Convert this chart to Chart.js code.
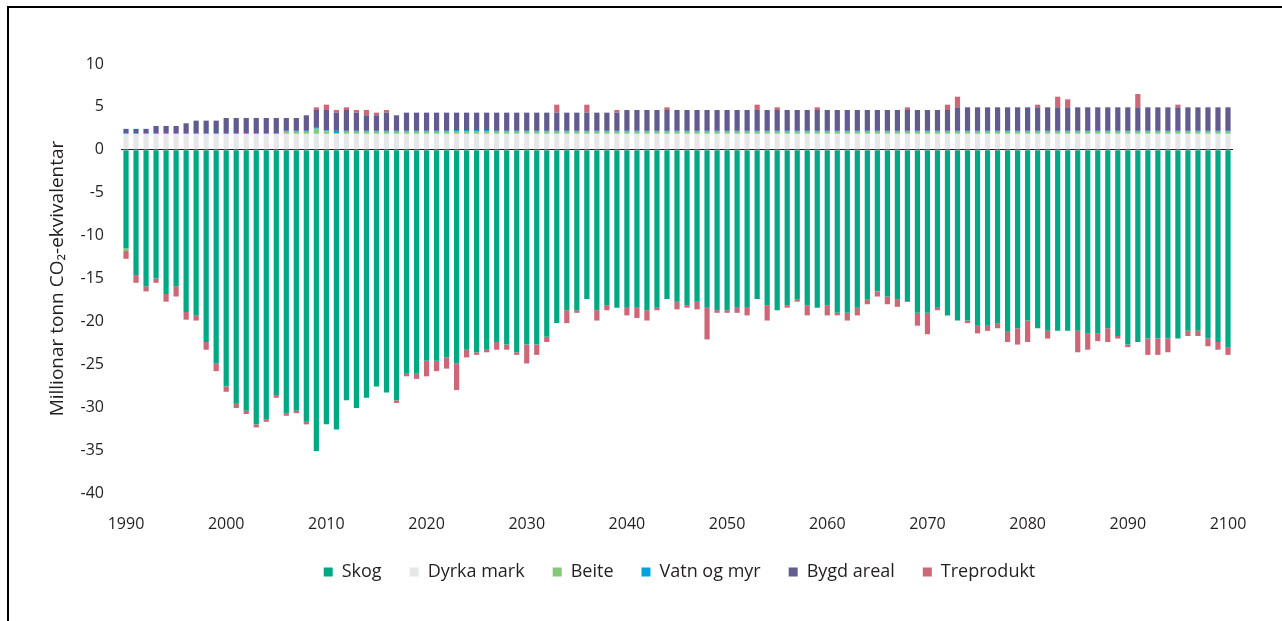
<!DOCTYPE html>
<html>
<head>
<meta charset="UTF-8">
<title>Millionar tonn CO2-ekvivalentar</title>
<script src="https://cdn.jsdelivr.net/npm/chart.js"></script>
<style>
  html, body { margin: 0; padding: 0; background: #fff; }
  #wrap { position: relative; width: 1282px; height: 621px; overflow: hidden; }
  #frame { position: absolute; left: 7px; top: 6px; right: -4px; bottom: -4px;
           border-top: 2px solid #000; border-left: 2px solid #000; }
  #chart { position: absolute; left: 0; top: 0; }
</style>
</head>
<body>
<div id="wrap">
  <div id="frame"></div>
  <canvas id="chart" width="1282" height="621"></canvas>
</div>
<script>
// years 1990..2100
const years = Array.from({ length: 111 }, (_, i) => String(1990 + i));

// Skog (forest)
const skog = [
  -11.5, -14.6, -15.9, -15.0, -16.8, -15.9, -18.9, -19.3, -22.4, -24.9, // 1990-1999
  -27.6, -29.5, -30.4, -32.0, -31.4, -28.6, -30.7, -30.4, -31.7, -35.1, // 2000-2009
  -32.0, -32.6, -29.2, -30.1, -28.9, -27.6, -28.3, -29.2, -26.1, -26.1, // 2010-2019
  -24.6, -24.6, -24.2, -24.9, -23.3, -23.6, -23.3, -22.4, -22.7, -23.6, // 2020-2029
  -22.7, -22.7, -21.8, -20.2, -18.7, -18.7, -17.4, -18.7, -18.1, -18.4, // 2030-2039
  -18.4, -18.4, -18.7, -18.4, -17.4, -17.7, -18.1, -17.7, -18.4, -18.7, // 2040-2049
  -18.7, -18.4, -18.4, -17.4, -18.1, -18.7, -18.1, -17.4, -18.1, -18.4, // 2050-2059
  -18.1, -19.0, -19.0, -18.4, -17.4, -16.5, -17.1, -17.4, -17.7, -19.0, // 2060-2069
  -19.0, -18.4, -19.3, -19.9, -19.9, -20.5, -20.5, -20.2, -21.2, -20.8, // 2070-2079
  -19.9, -20.8, -21.1, -21.1, -21.1, -21.1, -21.4, -21.4, -20.8, -21.7, // 2080-2089
  -22.7, -22.4, -22.0, -22.0, -22.0, -22.0, -21.1, -21.1, -22.0, -22.4, // 2090-2099
  -23.0                                                                  // 2100
];

// Dyrka mark (cropland)
const dyrkaMark = [
  1.86, 1.86, 1.86, 1.86, 1.86, 1.86, 1.86, 1.86, 1.86, 1.86,
  1.86, 1.86, 1.86, 1.86, 1.86, 1.86, 1.86, 1.86, 1.86, 1.86,
  1.86, 1.86, 1.86, 1.86, 1.86, 1.86, 1.86, 1.86, 1.86, 1.86,
  1.86, 1.86, 1.86, 1.86, 1.86, 1.86, 1.86, 1.86, 1.86, 1.86,
  1.86, 1.86, 1.86, 1.86, 1.86, 1.86, 1.86, 1.86, 1.86, 1.86,
  1.86, 1.86, 1.86, 1.86, 1.86, 1.86, 1.86, 1.86, 1.86, 1.86,
  1.86, 1.86, 1.86, 1.86, 1.86, 1.86, 1.86, 1.86, 1.86, 1.86,
  1.86, 1.86, 1.86, 1.86, 1.86, 1.86, 1.86, 1.86, 1.86, 1.86,
  1.86, 1.86, 1.86, 1.86, 1.86, 1.86, 1.86, 1.86, 1.86, 1.86,
  1.86, 1.86, 1.86, 1.86, 1.86, 1.86, 1.86, 1.86, 1.86, 1.86,
  1.86, 1.86, 1.86, 1.86, 1.86, 1.86, 1.86, 1.86, 1.86, 1.86,
  1.86
];

// Beite (grazing land)
const beite = [
  -0.3, 0, 0, 0, 0, 0, 0, 0, 0, 0,
  0, 0, 0, 0, 0, 0, 0.25, 0.25, 0.25, 0.6,
  0.3, 0.1, 0.25, 0.25, 0.25, 0.25, 0.25, 0.25, 0.25, 0.25,
  0.25, 0.25, 0.25, 0.25, 0.25, 0.25, 0.25, 0.25, 0.25, 0.25,
  0.25, 0.25, 0.25, 0.25, 0.25, 0.25, 0.25, 0.25, 0.25, 0.25,
  0.25, 0.25, 0.25, 0.25, 0.25, 0.25, 0.25, 0.25, 0.25, 0.25,
  0.25, 0.25, 0.25, 0.25, 0.25, 0.25, 0.25, 0.25, 0.25, 0.25,
  0.25, 0.25, 0.25, 0.25, 0.25, 0.25, 0.25, 0.25, 0.25, 0.25,
  0.25, 0.25, 0.25, 0.25, 0.25, 0.25, 0.25, 0.25, 0.25, 0.25,
  0.25, 0.25, 0.25, 0.25, 0.25, 0.25, 0.25, 0.25, 0.25, 0.25,
  0.25, 0.25, 0.25, 0.25, 0.25, 0.25, 0.25, 0.25, 0.25, 0.25,
  0.25
];

// Vatn og myr (water and wetland)
const vatnOgMyr = [
  0.1, 0.1, 0.1, 0.1, 0.1, 0.1, 0.1, 0.1, 0.1, 0.1,
  0.1, 0.1, 0.1, 0.1, 0.1, 0.1, 0.1, 0.1, 0.1, 0.1,
  0.1, 0.25, 0.1, 0.1, 0.1, 0.1, 0.1, 0.1, 0.1, 0.1,
  0.1, 0.1, 0.1, 0.2, 0.2, 0.2, 0.2, 0.1, 0.1, 0.1,
  0.1, 0.1, 0.1, 0.1, 0.1, 0.1, 0.1, 0.1, 0.1, 0.1,
  0.1, 0.1, 0.1, 0.1, 0.1, 0.1, 0.1, 0.1, 0.1, 0.1,
  0.1, 0.1, 0.1, 0.1, 0.1, 0.1, 0.1, 0.1, 0.1, 0.1,
  0.1, 0.1, 0.1, 0.1, 0.1, 0.1, 0.1, 0.1, 0.1, 0.1,
  0.1, 0.1, 0.1, 0.1, 0.1, 0.1, 0.1, 0.1, 0.1, 0.1,
  0.1, 0.1, 0.1, 0.1, 0.1, 0.1, 0.1, 0.1, 0.1, 0.1,
  0.1, 0.1, 0.1, 0.1, 0.1, 0.1, 0.1, 0.1, 0.1, 0.1,
  0.1
];

// Bygd areal (settlements)
const bygdAreal = [
  0.48, 0.48, 0.48, 0.82, 0.82, 0.82, 1.13, 1.44, 1.44, 1.44,
  1.75, 1.75, 1.75, 1.75, 1.75, 1.75, 1.50, 1.50, 1.81, 2.08,
  2.38, 2.12, 2.43, 2.12, 1.81, 1.81, 2.12, 1.81, 2.12, 2.12,
  2.12, 2.12, 2.12, 2.02, 2.02, 2.02, 2.02, 2.12, 2.12, 2.12,
  2.12, 2.12, 2.12, 2.12, 2.12, 2.12, 2.12, 2.12, 2.12, 2.12,
  2.43, 2.43, 2.43, 2.43, 2.43, 2.43, 2.43, 2.43, 2.43, 2.43,
  2.43, 2.43, 2.43, 2.43, 2.43, 2.43, 2.43, 2.43, 2.43, 2.43,
  2.43, 2.43, 2.43, 2.43, 2.43, 2.43, 2.43, 2.43, 2.43, 2.43,
  2.43, 2.43, 2.43, 2.74, 2.74, 2.74, 2.74, 2.74, 2.74, 2.74,
  2.74, 2.74, 2.74, 2.74, 2.74, 2.74, 2.74, 2.74, 2.74, 2.74,
  2.74, 2.74, 2.74, 2.74, 2.74, 2.74, 2.74, 2.74, 2.74, 2.74,
  2.74
];

// Treprodukt (harvested wood products), positive or negative
const treprodukt = [
  -0.9, -0.9, -0.6, -0.5, -0.9, -1.2, -0.9, -0.6, -0.9, -0.9,   // 1990-1999
  -0.6, -0.6, -0.4, -0.35, -0.3, -0.3, -0.3, -0.3, -0.3, 0.31,  // 2000-2009
  0.62, 0.31, 0.31, 0.31, 0.62, 0.31, 0.31, -0.3, -0.3, -0.6,   // 2010-2019
  -1.8, -1.2, -1.3, -3.1, -0.9, -0.3, -0.3, -0.9, -0.6, -0.3,   // 2020-2029
  -2.2, -1.2, -0.6, 0.93, -1.5, -0.3, 0.93, -1.2, -0.6, 0.31,   // 2030-2039
  -0.9, -1.2, -1.2, -0.3, 0.31, -0.9, -0.3, -0.9, -3.7, -0.3,   // 2040-2049
  -0.3, -0.6, -0.9, 0.62, -1.8, 0.31, -0.3, -0.3, -1.2, 0.31,   // 2050-2059
  -1.2, -0.3, -0.9, -0.9, -0.6, -0.6, -0.9, -0.9, 0.31, -1.5,   // 2060-2069
  -2.5, -0.3, 0.62, 1.24, -0.3, -0.9, -0.6, -0.6, -1.2, -1.9,   // 2070-2079
  -2.5, 0.31, -0.9, 1.24, 0.93, -2.5, -1.9, -0.9, -1.6, -0.3,   // 2080-2089
  -0.3, 1.55, -1.9, -1.9, -1.6, 0.31, -0.6, -0.6, -0.9, -0.9,   // 2090-2099
  -0.9                                                          // 2100
];

const ink = '#231f20';
const font = 'Open Sans, sans-serif';

function bars(label, data, color) {
  return { label: label, data: data, backgroundColor: color, borderWidth: 0,
           barPercentage: 0.52, categoryPercentage: 1.0 };
}

// the legend in the original sits a bit right of the page centre
const legendShift = {
  id: 'legendShift',
  afterLayout(chart) {
    const lg = chart.legend;
    if (!lg) return;
    lg.left += 63;
    lg.right += 63;
  }
};

new Chart(document.getElementById('chart'), {
  type: 'bar',
  data: {
    labels: years,
    datasets: [
      bars('Skog', skog, '#00a884'),
      bars('Dyrka mark', dyrkaMark, '#e6e7e8'),
      bars('Beite', beite, '#86c77a'),
      bars('Vatn og myr', vatnOgMyr, '#00a3e0'),
      bars('Bygd areal', bygdAreal, '#625b8f'),
      bars('Treprodukt', treprodukt, '#cd6777')
    ]
  },
  options: {
    responsive: false,
    animation: false,
    layout: { padding: { left: 0, right: 49, top: 64, bottom: 30 } },
    plugins: {
      tooltip: { enabled: false },
      legend: {
        position: 'bottom',
        labels: { boxWidth: 9, boxHeight: 9, padding: 28, color: ink,
                  font: { family: font, size: 18 } }
      }
    },
    scales: {
      x: {
        stacked: true,
        grid: { display: false },
        border: { display: false },
        ticks: {
          autoSkip: false, maxRotation: 0, padding: 14, color: ink,
          font: { family: font, size: 16 },
          callback: (v, i) => (Number(years[i]) % 10 === 0 ? years[i] : '')
        },
        afterFit: s => { s.height = 42; }
      },
      y: {
        stacked: true,
        min: -40, max: 10,
        border: { display: false },
        grid: {
          drawTicks: false,
          lineWidth: 1,
          color: c => (c.tick && c.tick.value === 0 ? ink : 'rgba(0,0,0,0)')
        },
        ticks: { stepSize: 5, padding: 17, color: ink, font: { family: font, size: 16 } },
        title: {
          display: true,
          text: 'Millionar tonn CO₂-ekvivalentar',
          color: ink,
          font: { family: font, size: 19 },
          padding: { top: 46, bottom: 0 }
        },
        afterFit: s => { s.width = 121; }
      }
    }
  },
  plugins: [legendShift]
});
</script>
</body>
</html>
